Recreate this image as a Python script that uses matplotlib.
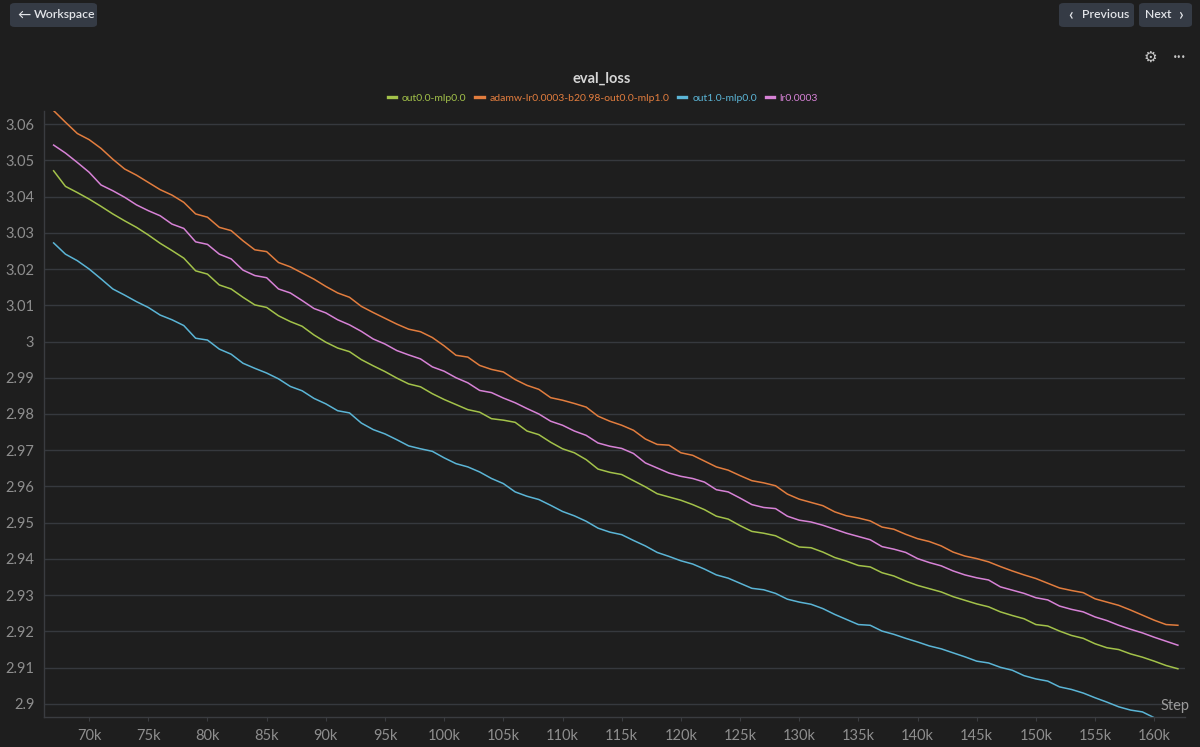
import matplotlib
matplotlib.use("Agg")
import matplotlib.pyplot as plt
from matplotlib.patches import FancyBboxPatch
from matplotlib.ticker import FuncFormatter, MultipleLocator

# --- data ---
steps = list(range(67000, 163000, 1000))          # 67k .. 162k
steps_out1 = list(range(67000, 161000, 1000))     # cyan run leaves the plot at 160k

loss_out0 = [
    3.0471, 3.0428, 3.0411, 3.0393, 3.0373, 3.0352, 3.0333, 3.0315, 3.0294, 3.0271,
    3.0251, 3.0230, 3.0195, 3.0186, 3.0156, 3.0145, 3.0122, 3.0101, 3.0094, 3.0071,
    3.0055, 3.0042, 3.0018, 2.9998, 2.9982, 2.9972, 2.9950, 2.9933, 2.9917, 2.9899,
    2.9883, 2.9875, 2.9856, 2.9840, 2.9826, 2.9812, 2.9805, 2.9787, 2.9783, 2.9777,
    2.9753, 2.9743, 2.9722, 2.9704, 2.9693, 2.9674, 2.9648, 2.9639, 2.9633, 2.9616,
    2.9599, 2.9580, 2.9571, 2.9562, 2.9550, 2.9536, 2.9518, 2.9510, 2.9492, 2.9476,
    2.9471, 2.9464, 2.9448, 2.9433, 2.9431, 2.9419, 2.9404, 2.9394, 2.9382, 2.9378,
    2.9362, 2.9353, 2.9339, 2.9327, 2.9318, 2.9309, 2.9296, 2.9286, 2.9276, 2.9268,
    2.9254, 2.9244, 2.9235, 2.9219, 2.9215, 2.9201, 2.9189, 2.9181, 2.9166, 2.9155,
    2.9150, 2.9138, 2.9129, 2.9118, 2.9106, 2.9097,
]

loss_adamw = [
    3.0637, 3.0605, 3.0574, 3.0557, 3.0533, 3.0503, 3.0476, 3.0459, 3.0439, 3.0419,
    3.0404, 3.0384, 3.0352, 3.0343, 3.0315, 3.0306, 3.0278, 3.0253, 3.0248, 3.0218,
    3.0206, 3.0189, 3.0172, 3.0152, 3.0134, 3.0122, 3.0097, 3.0080, 3.0064, 3.0048,
    3.0034, 3.0027, 3.0011, 2.9988, 2.9962, 2.9957, 2.9934, 2.9923, 2.9916, 2.9895,
    2.9879, 2.9868, 2.9845, 2.9838, 2.9829, 2.9819, 2.9794, 2.9780, 2.9769, 2.9755,
    2.9731, 2.9716, 2.9714, 2.9693, 2.9686, 2.9670, 2.9654, 2.9645, 2.9630, 2.9616,
    2.9610, 2.9602, 2.9579, 2.9565, 2.9556, 2.9547, 2.9530, 2.9519, 2.9513, 2.9505,
    2.9488, 2.9482, 2.9468, 2.9456, 2.9448, 2.9436, 2.9419, 2.9408, 2.9401, 2.9392,
    2.9379, 2.9367, 2.9356, 2.9346, 2.9333, 2.9320, 2.9313, 2.9307, 2.9290, 2.9281,
    2.9272, 2.9259, 2.9245, 2.9231, 2.9219, 2.9217,
]

loss_out1 = [
    3.0272, 3.0241, 3.0223, 3.0200, 3.0173, 3.0145, 3.0128, 3.0110, 3.0094, 3.0073,
    3.0060, 3.0044, 3.0009, 3.0004, 2.9979, 2.9965, 2.9940, 2.9926, 2.9913, 2.9897,
    2.9876, 2.9864, 2.9843, 2.9828, 2.9809, 2.9803, 2.9775, 2.9757, 2.9745, 2.9729,
    2.9712, 2.9704, 2.9697, 2.9679, 2.9663, 2.9654, 2.9640, 2.9622, 2.9608, 2.9585,
    2.9573, 2.9564, 2.9548, 2.9531, 2.9519, 2.9504, 2.9485, 2.9474, 2.9467, 2.9451,
    2.9436, 2.9418, 2.9407, 2.9395, 2.9386, 2.9372, 2.9356, 2.9347, 2.9333, 2.9319,
    2.9315, 2.9305, 2.9289, 2.9281, 2.9275, 2.9263, 2.9247, 2.9233, 2.9219, 2.9217,
    2.9201, 2.9192, 2.9181, 2.9171, 2.9160, 2.9152, 2.9141, 2.9130, 2.9118, 2.9113,
    2.9101, 2.9093, 2.9078, 2.9069, 2.9063, 2.9047, 2.9040, 2.9030, 2.9017, 2.9005,
    2.8992, 2.8983, 2.8978, 2.8962,
]

loss_lr = [
    3.0542, 3.0520, 3.0494, 3.0467, 3.0432, 3.0416, 3.0398, 3.0377, 3.0361, 3.0347,
    3.0324, 3.0312, 3.0275, 3.0268, 3.0241, 3.0228, 3.0197, 3.0182, 3.0176, 3.0145,
    3.0134, 3.0113, 3.0091, 3.0079, 3.0060, 3.0046, 3.0028, 3.0007, 2.9993, 2.9975,
    2.9963, 2.9952, 2.9930, 2.9918, 2.9900, 2.9886, 2.9865, 2.9859, 2.9844, 2.9831,
    2.9815, 2.9800, 2.9780, 2.9769, 2.9753, 2.9741, 2.9720, 2.9711, 2.9705, 2.9691,
    2.9665, 2.9651, 2.9637, 2.9628, 2.9622, 2.9612, 2.9591, 2.9585, 2.9568, 2.9550,
    2.9542, 2.9539, 2.9518, 2.9507, 2.9502, 2.9493, 2.9482, 2.9471, 2.9462, 2.9453,
    2.9434, 2.9427, 2.9418, 2.9401, 2.9390, 2.9381, 2.9367, 2.9356, 2.9348, 2.9342,
    2.9323, 2.9314, 2.9305, 2.9293, 2.9287, 2.9270, 2.9261, 2.9254, 2.9240, 2.9230,
    2.9217, 2.9206, 2.9196, 2.9184, 2.9173, 2.9162,
]

run_names = ["out0.0-mlp0.0", "adamw-lr0.0003-b20.98-out0.0-mlp1.0", "out1.0-mlp0.0", "lr0.0003"]
run_colors = ["#a3c24a", "#e27d3e", "#5bb5d6", "#d782d6"]

# --- style ---
bg = "#1e1e1e"
grid_col = "#36393e"
tick_col = "#8e8e8e"
btn_col = "#353b45"
fonts = ["Lato", "DejaVu Sans"]
plt.rcParams["font.family"] = fonts

fig = plt.figure(figsize=(12, 7.47), dpi=100, facecolor=bg)
ax = fig.add_axes([0.0367, 0.0402, 0.9508, 0.8112])
ax.set_facecolor(bg)

series = [(steps, loss_out0), (steps, loss_adamw), (steps_out1, loss_out1), (steps, loss_lr)]
for (x, y), name, col in zip(series, run_names, run_colors):
    ax.plot(x, y, color=col, lw=1.1, label=name, solid_joinstyle="round")

ax.set_xlim(66190, 162600)
ax.set_ylim(2.8964, 3.0636)

ax.yaxis.set_major_locator(MultipleLocator(0.01))
ax.xaxis.set_major_locator(MultipleLocator(5000))
ax.yaxis.set_major_formatter(FuncFormatter(lambda v, p: f"{v:.2f}".rstrip("0").rstrip(".")))
ax.xaxis.set_major_formatter(FuncFormatter(lambda v, p: f"{int(round(v / 1000))}k"))

ax.grid(axis="y", color=grid_col, lw=1.0)
ax.set_axisbelow(True)
for side in ["top", "right"]:
    ax.spines[side].set_visible(False)
for side in ["left", "bottom"]:
    ax.spines[side].set_color("#3a3c40")
    ax.spines[side].set_linewidth(1.0)
ax.tick_params(axis="y", length=0, pad=7, labelsize=10.5, labelcolor=tick_col)
ax.tick_params(axis="x", length=3, color="#3a3c40", pad=6, labelsize=10.5, labelcolor=tick_col)

ax.text(1.004, 0.018, "Step", transform=ax.transAxes, ha="right", va="center",
        color="#9a9a9a", fontsize=10.5)

# title + legend
fig.text(0.5015, 0.894, "eval_loss", ha="center", va="center", color="#d6d6d6",
         fontsize=10.5, fontweight="bold")
leg = fig.legend(loc="center", bbox_to_anchor=(0.5025, 0.869), ncol=4, frameon=False,
                 fontsize=7.5, handlelength=0.8, handletextpad=0.55, columnspacing=0.85)
for txt, line, col in zip(leg.get_texts(), leg.get_lines(), run_colors):
    txt.set_color(col)
    line.set_linewidth(2.4)

# top bar buttons
def button(x0, x1):
    w, h = (x1 - x0) / 1200, 24 / 747
    fig.patches.append(FancyBboxPatch((x0 / 1200, 1 - 27 / 747), w, h,
                                      boxstyle="round,pad=0,rounding_size=0.004",
                                      transform=fig.transFigure, fc=btn_col, ec="none"))

def label(x, s, ha="left", size=8.8):
    fig.text(x / 1200, 1 - 15 / 747, s, ha=ha, va="center", color="#e2e4e8",
             fontsize=size, fontweight="semibold")

button(10, 97)
label(17, "←", size=9.5)
label(34, "Workspace")
button(1059, 1134)
label(1068, "‹", size=12)
label(1082, "Previous")
button(1139, 1192)
label(1145, "Next")
label(1184, "›", ha="right", size=12)

# panel icons
fig.text(1150 / 1200, 1 - 57 / 747, "⚙", ha="center", va="center", color="#c8c8c8",
         fontsize=11, family="DejaVu Sans")
fig.text(1180 / 1200, 1 - 57 / 747, "•••", ha="center", va="center", color="#c8c8c8",
         fontsize=5.5, family="DejaVu Sans")

fig.savefig("out.png", dpi=100, facecolor=bg)
